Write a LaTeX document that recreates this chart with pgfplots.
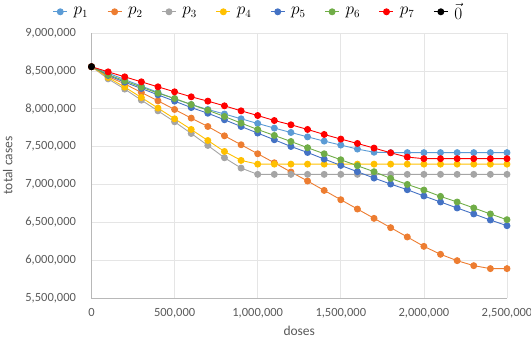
\documentclass[border=0pt]{standalone}
\usepackage{fontspec}
\setmainfont{Carlito}
\usepackage{pgfplots}
\usepackage{pgfplotstable}
\pgfplotsset{compat=1.18}
\definecolor{cP1}{HTML}{5B9BD5}
\definecolor{cP2}{HTML}{ED7D31}
\definecolor{cP3}{HTML}{A5A5A5}
\definecolor{cP4}{HTML}{FFC000}
\definecolor{cP5}{HTML}{4472C4}
\definecolor{cP6}{HTML}{70AD47}
\definecolor{cP7}{HTML}{FF0000}
\definecolor{txt}{HTML}{595959}
\pgfplotstableread{
x p1 p2 p3 p4 p5 p6 p7
0 8555000 8555000 8555000 8555000 8555000 8555000 8555000
100000 8470000 8425000 8394000 8412000 8440000 8450000 8487000
200000 8385000 8328000 8259000 8285000 8350000 8368000 8421000
300000 8300000 8214000 8113000 8148000 8267000 8285000 8355000
400000 8215000 8104000 7972000 8008000 8183000 8206000 8289000
500000 8130000 7990000 7827000 7867000 8100000 8135000 8223000
600000 8055000 7876000 7673000 7726000 8015000 8055000 8157000
700000 7990000 7765000 7515000 7580000 7940000 7980000 8100000
800000 7930000 7642000 7352000 7435000 7854000 7897000 8038000
900000 7867000 7524000 7216000 7317000 7765000 7810000 7972000
1000000 7805000 7405000 7133000 7268000 7678000 7725000 7910000
1100000 7744000 7286000 7133000 7268000 7590000 7647000 7844000
1200000 7686000 7164000 7133000 7268000 7501000 7567000 7788000
1300000 7628000 7045000 7133000 7268000 7422000 7485000 7726000
1400000 7572000 6921000 7133000 7268000 7335000 7405000 7660000
1500000 7520000 6798000 7133000 7268000 7251000 7326000 7599000
1600000 7467000 6675000 7133000 7268000 7168000 7247000 7541000
1700000 7425000 6552000 7133000 7268000 7084000 7168000 7480000
1800000 7420000 6429000 7133000 7268000 7005000 7079000 7418000
1900000 7420000 6306000 7133000 7268000 6930000 7000000 7361000
2000000 7420000 6182000 7133000 7268000 6847000 6926000 7340000
2100000 7420000 6077000 7133000 7268000 6768000 6842000 7340000
2200000 7420000 5993000 7133000 7268000 6689000 6768000 7340000
2300000 7420000 5927000 7133000 7268000 6610000 6689000 7340000
2400000 7420000 5888000 7133000 7268000 6530000 6610000 7340000
2500000 7420000 5888000 7133000 7268000 6455000 6534000 7340000
}\data
\pgfplotstableread{
x y
0 8555000
}\zero
\begin{document}
\begin{tikzpicture}
\useasboundingbox (0,0) rectangle (531pt,343pt);
\begin{axis}[
  at={(91.5pt,45pt)}, anchor=south west,
  scale only axis, width=415.5pt, height=265pt,
  xmin=0, xmax=2500000, ymin=5500000, ymax=9000000,
  xtick distance=500000, ytick distance=500000,
  scaled ticks=false,
  /pgf/number format/.cd, fixed, 1000 sep={,}, assume math mode=true, /pgfplots/.cd,
  tick label style={font=\fontsize{12.5}{15}\selectfont, text=txt},
  yticklabel style={xshift=-12pt},
  xticklabel style={yshift=-7pt},
  major tick length=0pt,
  grid=major, major grid style={draw=black!10, line width=0.6pt},
  axis lines=left,
  axis line style={-, draw=black!28, line width=0.8pt},
  xlabel={doses}, ylabel={total cases},
  label style={font=\fontsize{13.5}{15}\selectfont, text=txt},
  xlabel style={yshift=-1pt},
  ylabel style={yshift=6pt},
  every axis plot/.append style={line width=0.9pt, mark=*, mark size=3pt},
  legend columns=8,
  legend style={draw=none, fill=none, at={(axis description cs:0.402,1.08)}, anchor=center,
    font=\fontsize{16}{18}\selectfont,
    /tikz/every odd column/.append style={column sep=4pt},
    /tikz/every even column/.append style={column sep=17pt}},
  legend image code/.code={\draw[mark repeat=2,mark phase=2] plot coordinates {(0pt,0pt)(7pt,0pt)(14pt,0pt)};},
  clip=false,
]
\addplot[color=cP1, mark options={fill=cP1}] table[x=x,y=p1]{\data};
\addlegendentry{$p_1$}
\addplot[color=cP2, mark options={fill=cP2}] table[x=x,y=p2]{\data};
\addlegendentry{$p_2$}
\addplot[color=cP3, mark options={fill=cP3}] table[x=x,y=p3]{\data};
\addlegendentry{$p_3$}
\addplot[color=cP4, mark options={fill=cP4}] table[x=x,y=p4]{\data};
\addlegendentry{$p_4$}
\addplot[color=cP5, mark options={fill=cP5}] table[x=x,y=p5]{\data};
\addlegendentry{$p_5$}
\addplot[color=cP6, mark options={fill=cP6}] table[x=x,y=p6]{\data};
\addlegendentry{$p_6$}
\addplot[color=cP7, mark options={fill=cP7}] table[x=x,y=p7]{\data};
\addlegendentry{$p_7$}
\addplot[color=black, mark options={fill=black}] table[x=x,y=y]{\zero};
\addlegendentry{$\vec{0}$}
\end{axis}
\end{tikzpicture}
\end{document}
